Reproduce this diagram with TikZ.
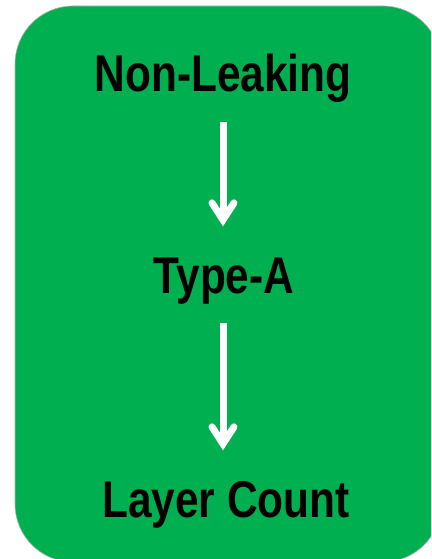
\documentclass[tikz,border=0pt]{standalone}
\usepackage{fontspec}
\usepackage{tikz}
\usetikzlibrary{arrows.meta}

\newfontfamily\narrowsans[FakeStretch=0.82]{Liberation Sans}
\definecolor{boxgreen}{HTML}{00B050}

\tikzset{
    steplabel/.style={font=\narrowsans\bfseries\fontsize{51.7}{60}\selectfont, inner sep=0pt, text height=37pt, text depth=11pt},
    flowarrow/.style={white, line width=7pt, shorten <=18.5pt, shorten >=29.5pt,
        -{Straight Barb[length=17pt, width=22pt, line cap=round]}}
}

\begin{document}
\begin{tikzpicture}[x=1pt, y=-1pt]
    \useasboundingbox (0,0) rectangle (431,559);
    \clip (0,0) rectangle (431,559);
    \filldraw[fill=boxgreen, draw=gray!60, line width=0.6pt, rounded corners=58pt] (15,6) rectangle (441,562);

    \node[steplabel, anchor=base] (nonleak) at (223,92) {Non-Leaking};
    \node[steplabel, anchor=base] (typea) at (224,293) {Type-A};
    \node[steplabel, anchor=base] (layers) at (226,517) {Layer Count};

    % keep both arrows on the same vertical line
    \draw[flowarrow] (nonleak.south) -- (nonleak.south |- typea.north);
    \draw[flowarrow] (nonleak.south |- typea.south) -- (nonleak.south |- layers.north);
\end{tikzpicture}
\end{document}
